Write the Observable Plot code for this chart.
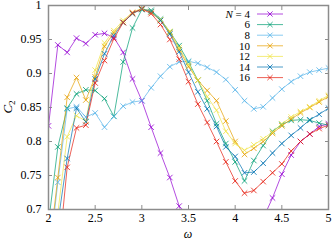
<!DOCTYPE html>
<html><head><meta charset="utf-8">
<script src="https://cdn.jsdelivr.net/npm/d3@7"></script>
<script src="https://cdn.jsdelivr.net/npm/@observablehq/plot@0.6"></script>
<style>body{margin:0;background:#fff}#c{width:332px;height:240px}</style>
</head><body><div id="c"></div>
<script>
const omega = [2.0,2.1,2.2,2.3,2.4,2.5,2.6,2.7,2.8,2.9,3.0,3.1,3.2,3.3,3.4,3.5,3.6,3.7,3.8,3.9,4.0,4.1,4.2,4.3,4.4,4.5,4.6,4.7,4.8,4.9,5.0];
const Ns = [4,6,8,10,12,14,16];
const c4  = [0.823,0.942,0.931,0.952,0.944,0.957,0.959,0.953,0.931,0.892,0.860,0.821,0.783,0.747,0.705,0.665,0.630,0.600,0.580,0.570,0.575,0.595,0.635,0.687,0.717,0.752,0.780,0.800,0.811,0.822,0.826];
const c6  = [0.680,0.792,0.849,0.870,0.876,0.875,0.863,0.837,0.917,0.967,0.994,0.993,0.980,0.961,0.941,0.917,0.890,0.860,0.826,0.797,0.770,0.742,0.772,0.794,0.815,0.825,0.831,0.832,0.831,0.827,0.824];
const c8  = [0.620,0.740,0.848,0.851,0.836,0.842,0.821,0.837,0.852,0.858,0.860,0.879,0.896,0.910,0.917,0.918,0.915,0.909,0.902,0.891,0.876,0.860,0.848,0.851,0.864,0.877,0.888,0.896,0.902,0.905,0.908];
const c10 = [0.630,0.747,0.865,0.894,0.861,0.895,0.940,0.960,0.975,0.988,0.995,0.990,0.978,0.960,0.935,0.910,0.890,0.875,0.860,0.830,0.800,0.781,0.790,0.800,0.812,0.823,0.833,0.842,0.850,0.858,0.866];
const c12 = [0.620,0.695,0.807,0.838,0.830,0.905,0.945,0.963,0.978,0.990,0.996,0.991,0.979,0.962,0.938,0.913,0.890,0.866,0.846,0.815,0.797,0.787,0.795,0.804,0.814,0.826,0.836,0.844,0.851,0.860,0.868];
const c14 = [0.600,0.680,0.775,0.849,0.829,0.892,0.929,0.956,0.975,0.988,0.995,0.991,0.978,0.958,0.932,0.902,0.873,0.848,0.822,0.792,0.778,0.754,0.755,0.768,0.783,0.797,0.809,0.820,0.832,0.840,0.849];
const c16 = [0.550,0.620,0.762,0.820,0.824,0.886,0.919,0.951,0.975,0.989,0.995,0.988,0.972,0.950,0.921,0.888,0.855,0.828,0.800,0.770,0.742,0.724,0.728,0.741,0.754,0.767,0.786,0.800,0.811,0.819,0.824];
const xTicks = [2,2.5,3,3.5,4,4.5,5];
const yTicks = [0.7,0.75,0.8,0.85,0.9,0.95,1];
const colors = ["#9400d3","#009e73","#56b4e9","#e69f00","#f0e442","#0072b2","#e51e10"];

const series = [c4,c6,c8,c10,c12,c14,c16];
const rows = Ns.flatMap((n,i)=>omega.map((w,j)=>({N:n,w,c:series[i][j]})));
const FONT = "'Liberation Serif', 'Times New Roman', serif";
const GRAY = "#8c8c8c";
const fmt = d => String(+d.toFixed(2));

const plot = Plot.plot({
  width:332, height:240,
  marginLeft:48, marginRight:4, marginTop:5, marginBottom:31,
  style:{fontFamily:FONT, fontSize:"12px", background:"#fff", color:"#000", overflow:"visible"},
  x:{domain:[2,5], label:null},
  y:{domain:[0.7,1], label:null},
  color:{type:"ordinal", domain:Ns, range:colors},
  marks:[
    Plot.line(rows,{x:"w",y:"c",z:"N",stroke:"N",strokeWidth:1,strokeOpacity:0.7,clip:true}),
    Plot.dot(rows,{x:"w",y:"c",stroke:"N",symbol:"times",r:2.6,strokeWidth:1,strokeOpacity:0.8,clip:true}),
    Plot.axisX(xTicks,{anchor:"bottom",tickSize:-4,text:null,stroke:GRAY,label:null}),
    Plot.axisX(xTicks,{anchor:"top",tickSize:-4,text:null,stroke:GRAY,label:null}),
    Plot.axisY(yTicks,{anchor:"left",tickSize:-4,text:null,stroke:GRAY,label:null}),
    Plot.axisY(yTicks,{anchor:"right",tickSize:-4,text:null,stroke:GRAY,label:null}),
    Plot.axisX(xTicks,{anchor:"bottom",tickSize:0,tickPadding:4,tickFormat:fmt,fontSize:12,label:null}),
    Plot.axisY(yTicks,{anchor:"left",tickSize:0,tickPadding:7,tickFormat:fmt,fontSize:12,label:null}),
    Plot.frame({stroke:GRAY,strokeWidth:1.5})
  ]
});
document.getElementById("c").appendChild(plot);

// legend and axis labels
const svg = d3.select(plot);
const lg = svg.append("g").attr("font-family",FONT).attr("font-size",11);
Ns.forEach((n,i)=>{
  const y = 14 + i*10.6;
  const t = lg.append("text").attr("x",250).attr("y",y).attr("text-anchor","end").attr("dy","0.35em");
  if(i===0){ t.append("tspan").attr("font-style","italic").text("N"); t.append("tspan").text(" = 4"); }
  else t.text(String(n));
  lg.append("line").attr("x1",257).attr("x2",283).attr("y1",y).attr("y2",y)
    .attr("stroke",colors[i]).attr("stroke-opacity",0.7).attr("stroke-width",1);
  lg.append("path").attr("d",`M${270-2.6},${y-2.6}L${270+2.6},${y+2.6}M${270-2.6},${y+2.6}L${270+2.6},${y-2.6}`)
    .attr("stroke",colors[i]).attr("stroke-opacity",0.8).attr("stroke-width",1);
});
const yl = svg.append("text").attr("transform","translate(12,107) rotate(-90)")
  .attr("text-anchor","middle").attr("font-family",FONT).attr("font-size",13);
yl.append("tspan").attr("font-style","italic").text("C");
yl.append("tspan").attr("font-size",9).attr("dy","3").text("2");
svg.append("text").attr("x",188).attr("y",238).attr("text-anchor","middle")
  .attr("font-family",FONT).attr("font-size",12).attr("font-style","italic").text("ω");
</script></body></html>
